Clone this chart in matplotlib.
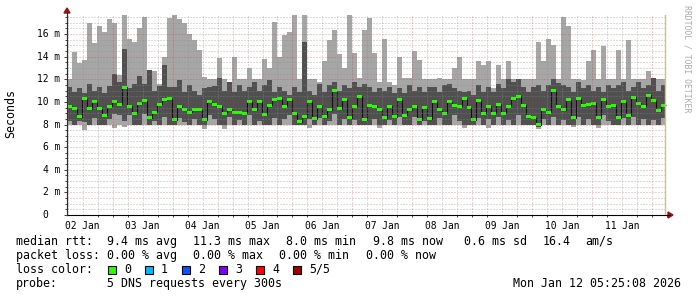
import numpy as np
import matplotlib
matplotlib.use("Agg")
import matplotlib.pyplot as plt
from matplotlib.patches import Polygon, Rectangle
from matplotlib.lines import Line2D

# ---------------- data (2-hour bins, ms) ----------------
BIN_HOURS = 2.0
hi = [12.0, 14.4, 13.4, 13.7, 17.0, 15.2, 16.7, 16.2, 17.3, 17.0,
      12.4, 17.7, 15.6, 15.3, 16.5, 17.5, 12.2, 12.7, 11.6, 14.0,
      17.4, 17.7, 17.3, 17.0, 16.0, 15.5, 14.6, 12.2, 12.0, 12.0,
      13.9, 12.0, 11.8, 14.0, 12.0, 12.0, 13.0, 12.0, 12.0, 13.8,
      13.0, 17.1, 14.0, 15.9, 16.2, 17.7, 12.0, 17.7, 12.0, 12.0,
      11.8, 13.6, 15.5, 16.4, 14.2, 13.0, 17.7, 14.3, 12.1, 16.4,
      17.4, 14.3, 11.8, 15.6, 11.8, 11.5, 14.0, 12.1, 12.1, 14.5,
      13.7, 12.0, 12.0, 12.0, 12.1, 12.0, 12.0, 13.0, 14.0, 12.0,
      12.0, 12.0, 13.6, 13.3, 13.6, 11.2, 13.3, 12.0, 13.6, 12.0,
      12.0, 12.0, 12.0, 12.0, 15.3, 13.6, 15.6, 15.0, 12.0, 17.5,
      16.7, 12.0, 12.0, 11.9, 13.6, 14.6, 12.0, 14.9, 12.0, 12.0,
      14.6, 12.0, 15.5, 12.0, 12.0, 12.0, 12.7, 12.0, 12.0, 12.0]
lo = [8.0, 8.0, 8.0, 7.5, 8.0, 8.0, 8.0, 8.0, 8.0, 7.7,
      8.0, 7.8, 8.0, 8.0, 8.0, 8.0, 8.0, 8.0, 8.0, 8.0,
      8.0, 8.0, 8.0, 8.0, 8.0, 8.0, 8.0, 7.6, 8.0, 8.0,
      8.0, 7.6, 8.0, 8.0, 8.0, 8.0, 8.0, 8.0, 8.0, 8.0,
      8.0, 8.0, 8.0, 8.0, 8.0, 8.0, 8.0, 8.0, 7.7, 8.0,
      8.0, 8.0, 8.0, 8.0, 8.0, 8.0, 8.0, 8.0, 8.0, 8.0,
      8.0, 8.0, 7.7, 8.0, 8.0, 8.0, 8.0, 8.0, 8.0, 8.0,
      8.0, 8.0, 8.0, 8.0, 8.0, 8.0, 8.0, 8.0, 8.0, 7.7,
      8.0, 8.0, 8.0, 8.0, 7.7, 8.0, 8.0, 8.0, 8.0, 8.0,
      8.0, 8.0, 8.0, 8.0, 7.6, 8.0, 8.0, 8.0, 8.0, 8.0,
      8.0, 7.8, 8.0, 8.0, 8.0, 8.0, 7.7, 8.0, 8.0, 8.0,
      8.0, 8.0, 8.0, 8.0, 8.0, 8.0, 8.0, 8.0, 8.0, 8.0]
p_upper = [11.3, 10.9, 11.2, 10.8, 11.6, 11.0, 11.3, 10.8, 11.4, 12.5,
           11.8, 14.7, 11.2, 11.6, 12.3, 11.6, 12.8, 11.0, 11.4, 13.3,
           11.3, 11.3, 11.9, 10.9, 11.5, 11.0, 10.6, 11.2, 11.3, 11.4,
           12.1, 11.0, 11.8, 10.9, 11.5, 11.0, 11.3, 11.8, 11.0, 11.5,
           11.9, 10.9, 11.3, 11.0, 10.6, 11.3, 10.9, 15.3, 11.0, 10.6,
           11.6, 10.9, 11.5, 11.8, 11.0, 11.5, 11.2, 11.8, 11.3, 11.6,
           11.3, 10.9, 11.2, 11.0, 11.3, 10.8, 11.2, 10.8, 11.5, 11.0,
           11.3, 10.9, 11.3, 11.3, 10.9, 11.5, 11.6, 11.2, 11.0, 10.9,
           11.0, 10.6, 11.5, 10.9, 11.3, 10.9, 11.6, 11.2, 12.0, 11.8,
           12.0, 11.3, 10.9, 11.3, 11.5, 11.0, 11.5, 12.0, 11.7, 11.5,
           11.3, 10.9, 11.8, 11.2, 11.5, 11.0, 11.3, 10.9, 11.5, 11.2,
           11.5, 11.8, 11.0, 11.3, 11.8, 11.2, 11.5, 12.1, 11.0, 11.5]
p_lower = [8.3, 8.0, 8.3, 8.2, 8.0, 8.6, 8.0, 8.0, 8.5, 8.9,
           8.8, 8.3, 8.8, 8.0, 8.0, 8.9, 8.0, 8.3, 8.0, 8.7,
           8.0, 8.0, 8.6, 8.2, 8.0, 8.5, 8.0, 8.0, 8.8, 8.5,
           8.0, 8.0, 8.7, 8.0, 8.4, 8.0, 8.8, 8.0, 8.3, 8.0,
           8.0, 8.6, 8.0, 8.5, 8.8, 8.0, 8.0, 8.0, 8.5, 8.0,
           8.6, 8.0, 8.3, 8.9, 8.0, 8.5, 8.0, 8.4, 8.0, 8.0,
           8.0, 8.5, 8.0, 8.0, 8.4, 8.0, 8.7, 8.0, 8.0, 8.7,
           8.0, 8.3, 8.0, 8.0, 8.6, 8.0, 8.0, 8.8, 8.3, 8.0,
           8.0, 8.0, 8.6, 8.0, 8.5, 8.0, 8.7, 8.0, 8.4, 8.0,
           8.8, 8.0, 8.0, 8.0, 7.8, 8.5, 8.0, 8.7, 8.0, 8.4,
           8.0, 8.0, 8.7, 8.0, 8.5, 8.0, 8.0, 8.8, 8.3, 8.0,
           8.0, 8.6, 8.0, 8.7, 8.0, 8.5, 8.0, 8.4, 8.0, 8.6]
median = [9.6, 9.4, 8.7, 10.3, 9.4, 10.0, 9.4, 8.8, 9.6, 10.0,
          9.8, 11.3, 9.6, 9.0, 9.9, 10.1, 8.6, 9.1, 9.8, 10.2,
          10.3, 8.4, 9.6, 9.3, 9.1, 9.3, 9.3, 8.4, 10.0, 9.8,
          9.6, 9.0, 9.3, 9.1, 9.1, 9.0, 10.0, 9.3, 10.0, 8.9,
          9.7, 10.2, 10.3, 9.6, 10.2, 9.0, 8.25, 8.7, 10.0, 8.5,
          9.6, 8.7, 9.3, 11.0, 9.4, 10.2, 8.6, 9.6, 10.5, 8.4,
          9.7, 9.6, 9.3, 8.6, 9.6, 8.7, 10.2, 8.8, 9.3, 9.6,
          8.4, 9.5, 8.5, 10.0, 9.3, 9.0, 10.0, 9.7, 9.6, 10.3,
          9.5, 8.4, 10.1, 9.0, 9.6, 9.0, 9.8, 9.0, 9.6, 10.3,
          10.5, 9.7, 8.75, 8.6, 8.0, 9.3, 9.1, 11.0, 9.6, 9.3,
          10.2, 8.6, 10.3, 9.7, 9.8, 9.9, 8.6, 10.2, 9.6, 9.7,
          8.6, 10.0, 8.8, 10.4, 9.9, 9.6, 10.6, 10.1, 9.2, 9.7]

day_labels = ["02 Jan", "03 Jan", "04 Jan", "05 Jan", "06 Jan",
              "07 Jan", "08 Jan", "09 Jan", "10 Jan", "11 Jan"]
FIRST_LABEL_HOUR = 6.3
y_ticks_ms = [0, 2, 4, 6, 8, 10, 12, 14, 16]

legend_rtt = [("median rtt:", 16), ("9.4 ms avg", 107), ("11.3 ms max", 193),
              ("8.0 ms min", 286), ("9.8 ms now", 373), ("0.6 ms sd", 464),
              ("16.4", 543), ("am/s", 585)]
legend_loss = [("packet loss:", 16), ("0.00 % avg", 107), ("0.00 % max", 193),
               ("0.00 % min", 279), ("0.00 % now", 366)]
loss_names = ["0", "1", "2", "3", "4", "5/5"]
loss_colors = ["#26ff00", "#00b8ff", "#0059ff", "#7e00ff", "#ff0000", "#a10000"]

# ---------------- layout ----------------
W, H = 697, 297
fig = plt.figure(figsize=(W / 100, H / 100), dpi=100)
fig.patch.set_facecolor("white")

def fx(x):
    return x / W

def fy(y):
    return 1 - y / H

PX_PER_MS = 11.31
ax = fig.add_axes([fx(67), fy(215), 600 / W, 200 / H])
ax.set_xlim(0, 240)
ax.set_ylim(0, 200 / PX_PER_MS)
ax.set_facecolor("white")

mono = "DejaVu Sans Mono"

hi_a = np.array(hi); lo_a = np.array(lo)
pu = np.array(p_upper); pl = np.array(p_lower); med = np.array(median)
edges = np.arange(len(med) + 1) * BIN_HOURS

ax.stairs(hi_a, edges, baseline=lo_a, fill=True, color="#a6a6a6", lw=0, zorder=1)
ax.stairs(pu, edges, baseline=pl, fill=True, color="#505050", lw=0, zorder=2)
ax.stairs(med, edges, baseline=None, color="#101010", lw=0.8, zorder=3)
sw = 3.0 / PX_PER_MS
ax.stairs(med + sw / 2, edges, baseline=med - sw / 2, fill=True,
          color=loss_colors[0], lw=0, zorder=4)

# grid
dots = (0, (1, 2))
minor_col = (0.55, 0.55, 0.55, 0.6)
major_col = (0.9, 0.15, 0.15, 0.45)
for yv in np.arange(0.5, 17.6, 0.5):
    is_major = abs(yv / 2 - round(yv / 2)) < 1e-6
    ax.axhline(yv, color=major_col if is_major else minor_col, lw=0.72,
               ls=dots, zorder=5)
for k in range(41):
    xv = FIRST_LABEL_HOUR - 6 + 6 * k
    if xv <= 0.1 or xv >= 240:
        continue
    is_major = abs(((xv - FIRST_LABEL_HOUR - 12) / 24) - round((xv - FIRST_LABEL_HOUR - 12) / 24)) < 1e-6
    ax.axvline(xv, color=major_col if is_major else minor_col, lw=0.72,
               ls=dots, zorder=5)

# "now" rule at right edge
ax.axvline(239.4, color="#c8c296", lw=1.0, zorder=6)

# spines / ticks
for s in ["top", "right"]:
    ax.spines[s].set_visible(False)
ax.spines["left"].set_color("#303030")
ax.spines["bottom"].set_color("#000000")
ax.spines["left"].set_linewidth(0.8)
ax.spines["bottom"].set_linewidth(0.8)
ax.set_yticks(y_ticks_ms)
ax.set_yticks(np.arange(0, 17.6, 0.5), minor=True)
ax.set_xticks([FIRST_LABEL_HOUR + 24 * i for i in range(len(day_labels))])
ax.set_xticks([FIRST_LABEL_HOUR - 6 + 6 * k for k in range(1, 41)], minor=True)
ax.set_xticklabels(day_labels, fontsize=6.95, family=mono)
ax.tick_params(axis="x", which="major", length=0, pad=4.0)
ax.tick_params(axis="x", which="minor", length=1.5, width=0.7, color="#404040")
ax.tick_params(axis="y", which="major", length=2.2, width=0.7, color="#404040",
               labelleft=False)
ax.tick_params(axis="y", which="minor", length=1.4, width=0.7, color="#404040")

for v in y_ticks_ms:
    ypx = 215 - v * PX_PER_MS
    lab = "0" if v == 0 else f"{v} m"
    xr = 60 - (2 * 5.8 if v == 0 else 0)
    fig.text(fx(xr), fy(ypx), lab, ha="right", va="center", fontsize=6.95,
             family=mono, color="#000000")

# axis extensions and arrows
fig.add_artist(Line2D([fx(67), fx(67)], [fy(215), fy(12)], color="#303030", lw=0.8))
fig.add_artist(Line2D([fx(667), fx(670)], [fy(215), fy(215)], color="#000000", lw=0.8))
fig.add_artist(Polygon([(fx(64), fy(13)), (fx(70), fy(13)), (fx(67), fy(8))],
                       closed=True, color="#9b1111", transform=fig.transFigure))
fig.add_artist(Polygon([(fx(668), fy(212)), (fx(668), fy(218)), (fx(673), fy(215))],
                       closed=True, color="#9b1111", transform=fig.transFigure))

# y-axis title and watermark
fig.text(fx(11), fy(114), "Seconds", rotation=90, ha="center", va="center",
         fontsize=8.4, family=mono, color="#000000")
fig.text(fx(687), fy(59), "RRDTOOL / TOBI OETIKER", rotation=270, ha="center",
         va="center", fontsize=5.9, family=mono, color="#aaaaaa")

# legend
FS = 8.4
for txt, x in legend_rtt:
    fig.text(fx(x), fy(241.5), txt, ha="left", va="center", fontsize=FS, family=mono)
for txt, x in legend_loss:
    fig.text(fx(x), fy(255.5), txt, ha="left", va="center", fontsize=FS, family=mono)
fig.text(fx(16), fy(269.5), "loss color:", ha="left", va="center", fontsize=FS, family=mono)
for i, (nm, col) in enumerate(zip(loss_names, loss_colors)):
    bx = 108 + 37 * i
    fig.add_artist(Rectangle((fx(bx), fy(273.5)), 8 / W, 8 / H, facecolor=col,
                             edgecolor="#000000", lw=0.8, transform=fig.transFigure))
    fig.text(fx(bx + 16), fy(269.5), nm, ha="left", va="center", fontsize=FS, family=mono)
fig.text(fx(16), fy(283.5), "probe:", ha="left", va="center", fontsize=FS, family=mono)
fig.text(fx(107), fy(283.5), "5 DNS requests every 300s", ha="left", va="center",
         fontsize=FS, family=mono)
fig.text(fx(681), fy(283.5), "Mon Jan 12 05:25:08 2026", ha="right", va="center",
         fontsize=FS, family=mono)

fig.savefig("out.png", dpi=100, facecolor="white")
